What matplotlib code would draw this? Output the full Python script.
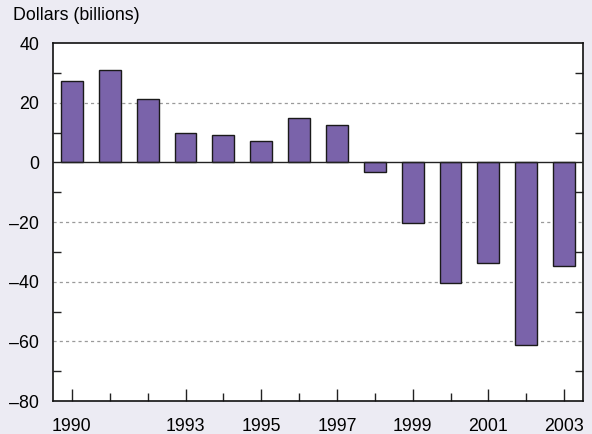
import numpy as np
import matplotlib.pyplot as plt
from matplotlib.ticker import FixedLocator

plt.rcParams['font.family'] = ['Liberation Sans', 'DejaVu Sans']

years = np.arange(1990, 2004)
values = [27.4, 31.0, 21.1, 9.9, 9.3, 7.0, 14.7, 12.5, -3.1, -20.4, -40.4, -33.7, -61.1, -34.6]
ytick_vals = [40, 20, 0, -20, -40, -60, -80]
ytick_labels = ['40', '20', '0', '\u201320', '\u201340', '\u201360', '\u201380']
xlabel_years = [1990, 1993, 1995, 1997, 1999, 2001, 2003]

bg = '#ecebf3'
bar_color = '#7a63aa'
fs = 12.8

fig = plt.figure(figsize=(5.92, 4.34), dpi=100, facecolor=bg)
ax = fig.add_axes([53 / 592, 1 - 401 / 434, 530 / 592, 358 / 434])
ax.set_facecolor('white')

ax.bar(years, values, width=0.58, color=bar_color, edgecolor='#1a1a1a', linewidth=1.0, zorder=3)

ax.set_xlim(1989.5, 2003.5)
ax.set_ylim(-80, 40)

# gridlines and zero line
for g in [20, -20, -40, -60]:
    ax.axhline(g, color='#9a9a9a', linestyle=(0, (2.5, 2.5)), linewidth=0.9, zorder=1)
ax.axhline(0, color='#222222', linewidth=1.0, zorder=4)

# y ticks: labels at majors, tick marks only at minors
ax.set_yticks(ytick_vals)
ax.set_yticklabels(ytick_labels, fontsize=fs)
ax.yaxis.set_minor_locator(FixedLocator([30, 10, -10, -30, -50, -70]))
ax.tick_params(axis='y', which='major', length=0, pad=10)
ax.tick_params(axis='y', which='minor', direction='in', length=6, width=1,
               left=True, right=True, color='#222222')

# x ticks: longer at labelled years
ax.set_xticks(xlabel_years)
ax.set_xticklabels([str(y) for y in xlabel_years], fontsize=fs)
ax.xaxis.set_minor_locator(FixedLocator([y for y in years if y not in xlabel_years]))
ax.tick_params(axis='x', which='major', direction='in', length=9, width=1, pad=12, color='#222222')
ax.tick_params(axis='x', which='minor', direction='in', length=6, width=1, color='#222222')

for s in ax.spines.values():
    s.set_linewidth(1.2)
    s.set_color('#111111')

fig.text(13 / 592, 1 - 15 / 434, 'Dollars (billions)', fontsize=fs, va='center', ha='left')

fig.savefig('out.png', dpi=100, facecolor=bg)
